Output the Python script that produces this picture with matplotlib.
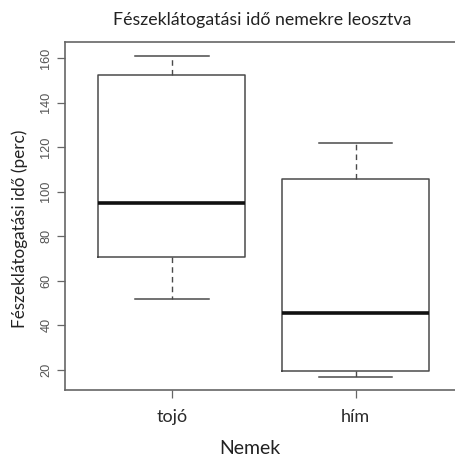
import matplotlib
matplotlib.use("Agg")
import matplotlib.pyplot as plt

categories = ["tojó", "hím"]
whisker_low = [51.7, 16.8]
q1 = [70.6, 19.2]
median = [95.1, 45.5]
q3 = [152.5, 105.8]
whisker_high = [161.2, 122.0]
y_ticks = [20, 40, 60, 80, 100, 120, 140, 160]

title = "Fészeklátogatási idő nemekre leosztva"
xlabel = "Nemek"
ylabel = "Fészeklátogatási idő (perc)"

line_col = "#4a4a4a"
txt_font = ["Lato", "DejaVu Sans"]
num_font = ["Liberation Sans", "DejaVu Sans"]

fig = plt.figure(figsize=(4.55, 4.57), dpi=100)
ax = fig.add_axes([65 / 455, 67 / 457, 397.4 / 455, 348.3 / 457])

stats = []
for i, c in enumerate(categories):
    stats.append(dict(label=c, whislo=whisker_low[i], q1=q1[i], med=median[i],
                      q3=q3[i], whishi=whisker_high[i], fliers=[]))

ax.bxp(stats, positions=[1, 2], widths=0.8, showfliers=False,
       boxprops=dict(color=line_col, linewidth=1.1),
       whiskerprops=dict(color=line_col, linewidth=1.0, linestyle=(0, (4, 3))),
       capprops=dict(color=line_col, linewidth=1.1),
       medianprops=dict(color="#111111", linewidth=2.6, solid_capstyle="butt"),
       capwidths=0.4)

ax.set_xlim(0.42, 2.58)
ax.set_ylim(10.8, 167.5)
ax.set_yticks(y_ticks)
ax.set_yticklabels([str(v) for v in y_ticks], rotation=90, va="center",
                   family=num_font, fontsize=9.2, color="#555555")
ax.set_xticks([1, 2])
ax.set_xticklabels(categories, family=txt_font, fontsize=13, color="#2a2a2a")
ax.tick_params(axis="both", direction="out", length=6, width=0.9, color="#666666", pad=3)
ax.tick_params(axis="x", pad=8)
for s in ax.spines.values():
    s.set_color("#666666")
    s.set_linewidth(1.2)

fig.text(262 / 455, 1 - 20 / 457, title, ha="center", va="center",
         family=txt_font, fontsize=12.8, color="#222222")
fig.text(20 / 455, 1 - 229 / 457, ylabel, ha="center", va="center", rotation=90,
         family=txt_font, fontsize=12.3, color="#222222")
fig.text(250 / 455, 1 - 448 / 457, xlabel, ha="center", va="center",
         family=txt_font, fontsize=14, color="#222222")

fig.savefig("out.png", dpi=100)
